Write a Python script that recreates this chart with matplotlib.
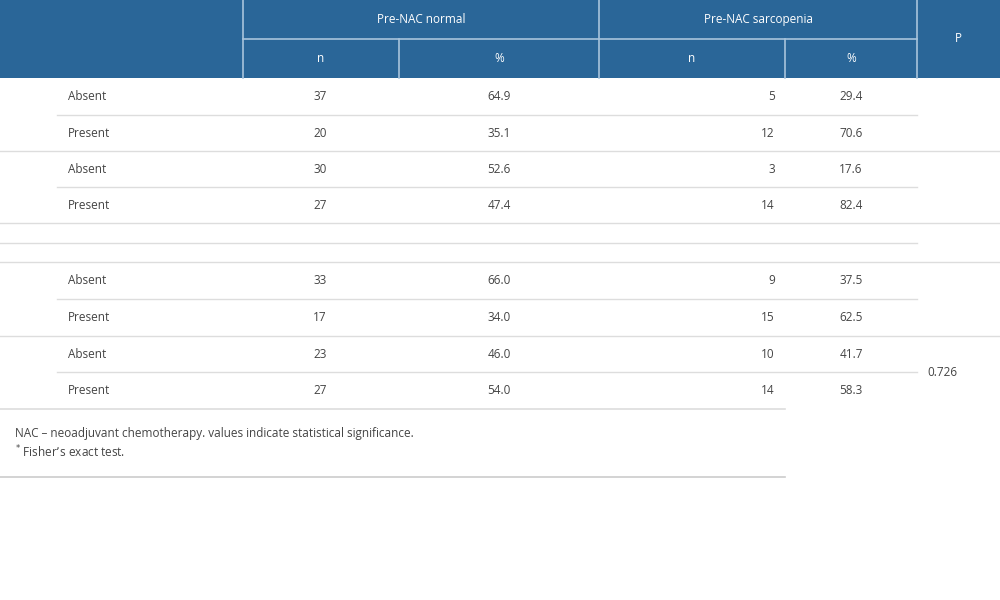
import matplotlib.pyplot as plt
from matplotlib.patches import Rectangle

plt.rcParams["font.family"] = "Open Sans"

labels = ["Absent", "Present", "Absent", "Present", "Absent", "Present", "Absent", "Present"]
normal_n = ["37", "20", "30", "27", "33", "17", "23", "27"]
normal_pct = ["64.9", "35.1", "52.6", "47.4", "66.0", "34.0", "46.0", "54.0"]
sarc_n = ["5", "12", "3", "14", "9", "15", "10", "14"]
sarc_pct = ["29.4", "70.6", "17.6", "82.4", "37.5", "62.5", "41.7", "58.3"]
p_values = {7: "0.726"}

# row tops (pixel space), two empty rows after the first 4
row_tops = [78, 115, 151, 187, 262, 299, 336, 372]
row_h = 36.5

blue = "#2a6698"
txt = "#444444"
grid = "#dddddd"

fig = plt.figure(figsize=(10, 6), dpi=100)
ax = fig.add_axes([0, 0, 1, 1])
ax.set_xlim(0, 1000)
ax.set_ylim(600, 0)
ax.axis("off")

# header
ax.add_patch(Rectangle((0, 0), 1000, 78, color=blue, lw=0))
hl = "#a9c4dc"
ax.plot([243, 917], [39, 39], color=hl, lw=1.2)
for x in [243, 599, 917]:
    ax.plot([x, x], [0, 78], color=hl, lw=1.2)
for x in [399, 785]:
    ax.plot([x, x], [39, 78], color=hl, lw=1.2)
hs = dict(color="white", fontsize=8.5, ha="center", va="center")
ax.text(421, 19.5, "Pre-NAC normal", **hs)
ax.text(758, 19.5, "Pre-NAC sarcopenia", **hs)
ax.text(958, 39, "P", **hs)
for x, s in [(321, "n"), (499, "%"), (692, "n"), (851, "%")]:
    ax.text(x, 58.5, s, **hs)

# body
ts = dict(color=txt, fontsize=8.5, va="center")
for i, top in enumerate(row_tops):
    yc = top + row_h / 2
    ax.text(68, yc, labels[i], ha="left", **ts)
    ax.text(327, yc, normal_n[i], ha="right", **ts)
    ax.text(499, yc, normal_pct[i], ha="center", **ts)
    ax.text(775, yc, sarc_n[i], ha="right", **ts)
    ax.text(851, yc, sarc_pct[i], ha="center", **ts)

ax.text(927, 372, p_values[7], ha="left", **ts)

# separators
for y in [115, 187, 299, 372]:
    ax.plot([57, 917], [y, y], color=grid, lw=1)
for y in [151, 223, 262, 336]:
    ax.plot([0, 1000], [y, y], color=grid, lw=1)
ax.plot([0, 917], [243, 243], color=grid, lw=1)
ax.plot([0, 785], [409, 409], color=grid, lw=1.2)
ax.plot([0, 785], [477, 477], color="#cccccc", lw=1.2)

# footnote
ax.text(15, 434, "NAC – neoadjuvant chemotherapy. values indicate statistical significance.",
        ha="left", **ts)
ax.text(15, 452, r"$^{*}$ Fisher’s exact test.", ha="left", **ts)

plt.savefig("out.png", dpi=100)
